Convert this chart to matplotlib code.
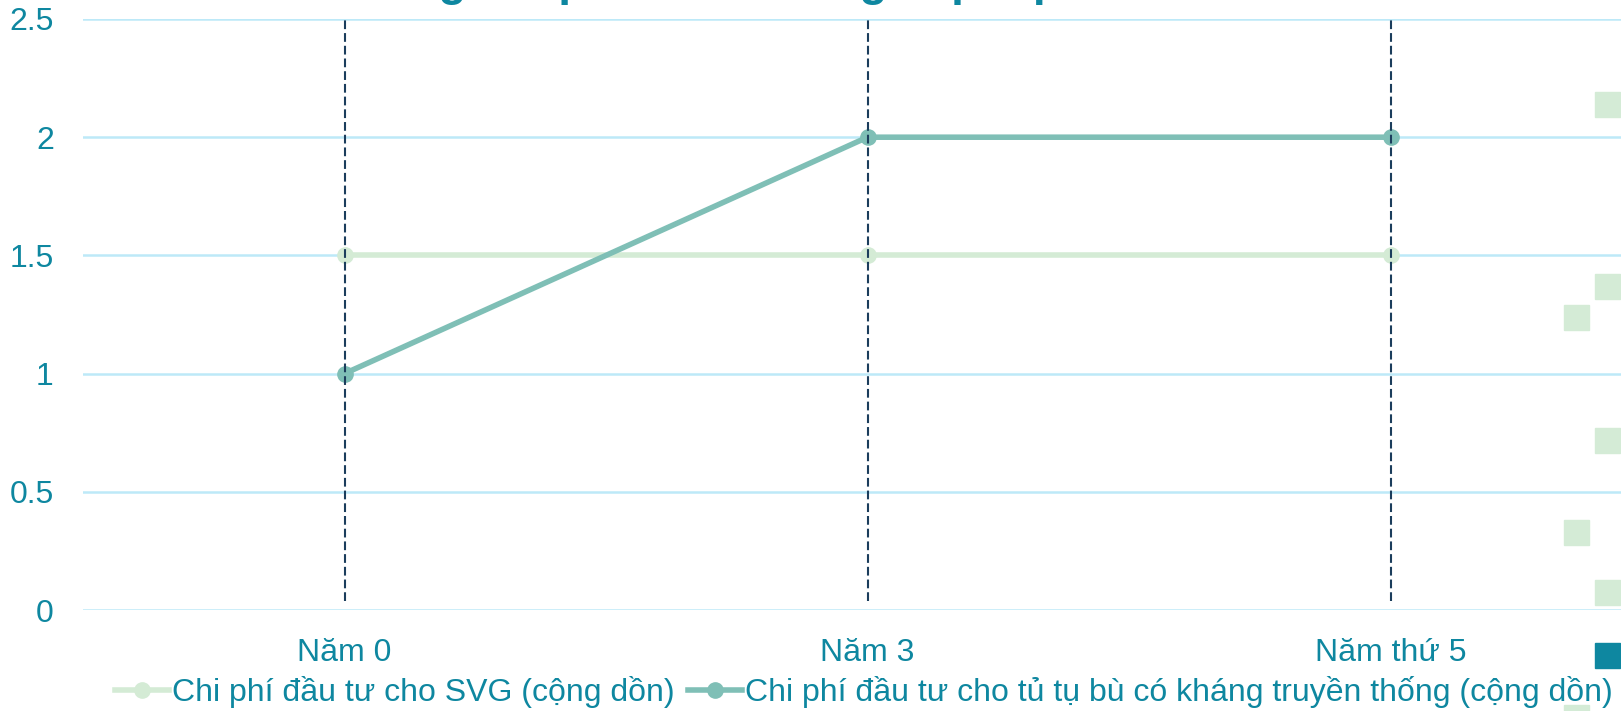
import matplotlib
matplotlib.use("Agg")
import matplotlib.pyplot as plt
from matplotlib.patches import Rectangle

plt.rcParams['font.family'] = ['Liberation Sans', 'DejaVu Sans']

# data
years = ["Năm 0", "Năm 3", "Năm thứ 5"]
svg_cost = [1.5, 1.5, 1.5]
traditional_cost = [1, 2, 2]
series_names = ["Chi phí đầu tư cho SVG (cộng dồn)",
                "Chi phí đầu tư cho tủ tụ bù có kháng truyền thống (cộng dồn)"]
title = "So sánh tổng chi phí đầu tư và giải pháp SVG"

teal_text = '#0e87a0'
grid_col = '#bde9f8'

fig = plt.figure(figsize=(16.21, 7.11), dpi=100)
ax = fig.add_axes([83 / 1621, 101 / 711, 1569 / 1621, 591 / 711])

x = list(range(len(years)))
ax.plot(x, svg_cost, color='#d4ebd5', linewidth=4, marker='o', markersize=11,
        label=series_names[0], zorder=3)
ax.plot(x, traditional_cost, color='#7fbfb6', linewidth=4, marker='o', markersize=11,
        label=series_names[1], zorder=4)
# drop lines sit on top of the series
ax.vlines(x, 0.04, 2.5, colors='#1b3d5c', linestyles=(0, (4.2, 1.9)), linewidth=1.5, zorder=5)

ax.set_xlim(-0.5, 2.5)
ax.set_ylim(0, 2.5)
ax.set_xticks(x)
ax.set_xticklabels(years)
ax.set_yticks([0, 0.5, 1, 1.5, 2, 2.5])
ax.set_yticklabels(["0", "0.5", "1", "1.5", "2", "2.5"])
ax.tick_params(axis='both', length=0, labelsize=23, colors=teal_text)
ax.tick_params(axis='y', pad=21)
ax.tick_params(axis='x', pad=20)
ax.grid(axis='y', color=grid_col, linewidth=1.8, zorder=0)
ax.set_axisbelow(True)
for s in ax.spines.values():
    s.set_visible(False)

fig.legend(loc='center', bbox_to_anchor=(864 / 1621, 19 / 711), ncol=2, frameon=False,
           fontsize=23, labelcolor=teal_text, handlelength=1.7, handletextpad=0.1,
           columnspacing=0.4, borderpad=0, borderaxespad=0)

# title, mostly outside the visible canvas
fig.text(176 / 1621, 1 + 4.7 / 711, title, ha='left', va='baseline', fontsize=33,
         fontweight='bold', color=teal_text)

# decorative squares on the right edge
square_x = [1595, 1595, 1564, 1595, 1564, 1595, 1595, 1564]
square_y = [92, 274, 305, 428, 520, 580, 643, 705]
square_c = ['#d4ebd6'] * 6 + [teal_text, '#d4ebd6']
for sx, sy, sc in zip(square_x, square_y, square_c):
    fig.patches.append(Rectangle((sx / 1621, 1 - (sy + 25) / 711), 25 / 1621, 25 / 711,
                                 transform=fig.transFigure, color=sc, zorder=5))

fig.savefig("out.png", dpi=100)
